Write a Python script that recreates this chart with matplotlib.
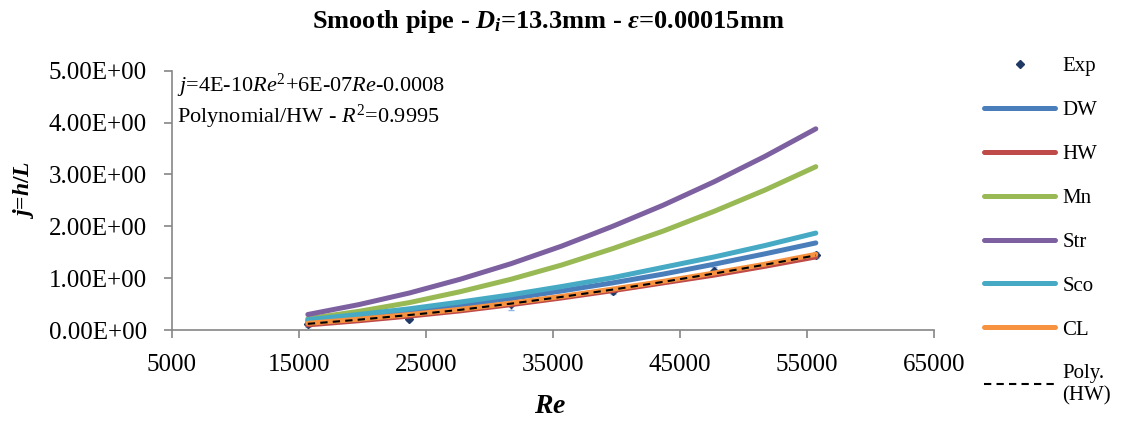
import matplotlib
matplotlib.use("Agg")
import matplotlib.pyplot as plt
from matplotlib.ticker import FormatStrFormatter

plt.rcParams["font.family"] = ["Liberation Serif", "DejaVu Serif"]
plt.rcParams["mathtext.fontset"] = "custom"
plt.rcParams["mathtext.rm"] = "Liberation Serif"
plt.rcParams["mathtext.it"] = "Liberation Serif:italic"
plt.rcParams["mathtext.bf"] = "Liberation Serif:bold:italic"

# experimental points
re_exp = [15700, 23700, 31700, 39700, 47700, 55700]
j_exp = [0.12, 0.22, 0.50, 0.75, 1.14, 1.45]
j_err = [0.07, 0.05, 0.12, 0.06, 0.07, 0.06]

# model curves
re_curve = [15700, 19700, 23700, 27700, 31700, 35700, 39700, 43700, 47700, 51700, 55700]
j_dw = [0.17, 0.26, 0.36, 0.48, 0.61, 0.755, 0.91, 1.08, 1.27, 1.47, 1.68]
j_hw = [0.10, 0.18, 0.27, 0.37, 0.49, 0.62, 0.76, 0.91, 1.06, 1.23, 1.41]
j_mn = [0.22, 0.36, 0.53, 0.74, 0.98, 1.255, 1.57, 1.91, 2.29, 2.70, 3.15]
j_str = [0.30, 0.49, 0.715, 0.98, 1.28, 1.62, 2.00, 2.41, 2.86, 3.35, 3.88]
j_sco = [0.20, 0.30, 0.41, 0.54, 0.68, 0.84, 1.01, 1.21, 1.41, 1.63, 1.87]
j_cl = [0.13, 0.21, 0.30, 0.40, 0.52, 0.65, 0.79, 0.94, 1.10, 1.27, 1.46]
j_poly = [0.12, 0.20, 0.29, 0.39, 0.51, 0.64, 0.78, 0.93, 1.09, 1.26, 1.44]

series = [("DW", j_dw, "#4A7EBB"), ("HW", j_hw, "#BE4B48"), ("Mn", j_mn, "#98B954"),
          ("Str", j_str, "#7D60A0"), ("Sco", j_sco, "#46AAC5"), ("CL", j_cl, "#F69240")]

fig = plt.figure(figsize=(11.21, 4.21), dpi=100)
ax = fig.add_axes([0.1534, 0.216, 0.6797, 0.616])

ax.errorbar(re_exp, j_exp, yerr=j_err, fmt="none", ecolor="#8EB4E3", elinewidth=1, capsize=2, zorder=1)
ax.plot(re_exp, j_exp, "D", color="#1F3864", markersize=4, linestyle="none", label="Exp", zorder=2)
for name, vals, col in series:
    ax.plot(re_curve, vals, color=col, lw=3.6, solid_capstyle="round", label=name, zorder=3)
ax.plot(re_curve, j_poly, color="black", lw=1.5, dashes=(3.5, 2.5), label="Poly.\n(HW)", zorder=4)

ax.set_xlim(5000, 65000)
ax.set_ylim(0, 5)
ax.set_xticks(range(5000, 65001, 10000))
ax.set_yticks([0, 1, 2, 3, 4, 5])
ax.yaxis.set_major_formatter(FormatStrFormatter("%.2E"))
for s in ["top", "right"]:
    ax.spines[s].set_visible(False)
for s in ["left", "bottom"]:
    ax.spines[s].set_color("#868686")
    ax.spines[s].set_linewidth(1.2)
ax.tick_params(direction="out", length=6, width=1.2, color="#868686", labelsize=18, pad=11)
ax.tick_params(axis="y", pad=12)

ax.set_xlabel(r"$\mathbf{Re}$", fontsize=20)
ax.xaxis.set_label_coords(0.496, -0.245)
ax.set_ylabel(r"$\mathbf{j}$=$\mathbf{h}$/$\mathbf{L}$", fontsize=17, fontweight="bold")
ax.yaxis.set_label_coords(-0.178, 0.54)

ax.text(0.007, 0.995, r"$\mathit{j}$=4E-10$\mathit{Re}^2$+6E-07$\mathit{Re}$-0.0008" + "\n" +
        r"Polynomial/HW - $\mathit{R}^2$=0.9995",
        transform=ax.transAxes, fontsize=16, va="top", ha="left", linespacing=1.12)

fig.text(0.489, 0.95, r"Smooth pipe - $\mathbf{D_i}$=13.3mm - $\mathbf{ε}$=0.00015mm",
         fontsize=19, fontweight="bold", ha="center", va="center")

fig.legend(loc="upper left", bbox_to_anchor=(0.878, 0.866), frameon=False, fontsize=15,
           handlelength=3.4, handletextpad=0.35, labelspacing=1.17, borderpad=0, borderaxespad=0)

fig.savefig("out.png", dpi=100)
